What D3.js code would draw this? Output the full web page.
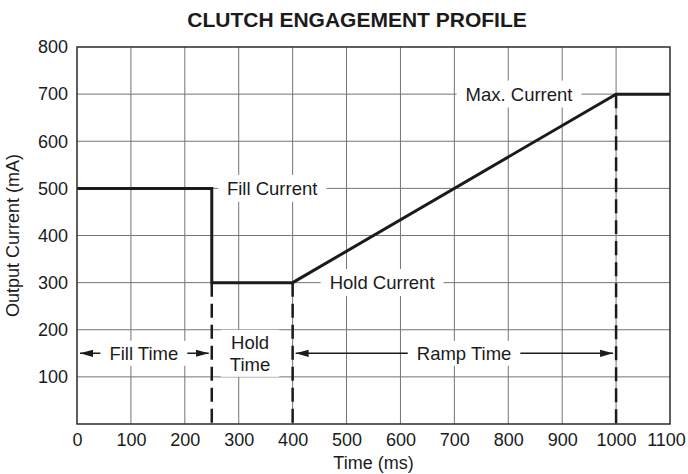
<!DOCTYPE html>
<html>
<head>
<meta charset="utf-8">
<script src="https://cdn.jsdelivr.net/npm/d3@7"></script>
<style>
  body { margin: 0; background: #fff; }
  svg { display: block; font-family: "Liberation Sans", Arial, sans-serif; }
</style>
</head>
<body>
<svg id="chart" width="688" height="474"></svg>
<script>
// profile of the output current (ms, mA)
let profileTime = [0, 250, 250, 400, 1000, 1100];
let profileCurrent = [500, 500, 300, 300, 700, 700];

// dashed markers dropping to the time axis
let markerTime = [250, 400, 1000];
let markerCurrent = [300, 300, 700];

// labels sitting on the current levels
let levelLabels = ["Fill Current", "Hold Current", "Max. Current"];
let levelTime = [362, 566, 820];
let levelCurrent = [500, 300, 700];

// time spans with arrows
let spanLabels = ["Fill Time", "Hold Time", "Ramp Time"];
let spanStart = [0, 250, 400];
let spanEnd = [250, 400, 1000];
let spanArrows = [true, false, true];
let spanLabelTime = [124, 321, 718];
let spanCurrent = 150;

let xTicks = [0, 100, 200, 300, 400, 500, 600, 700, 800, 900, 1000, 1100];
let yTicks = [100, 200, 300, 400, 500, 600, 700, 800];

let svg = d3.select("#chart");
let margin = {top: 47, right: 18, bottom: 50, left: 77};
let width = 688 - margin.left - margin.right;
let height = 474 - margin.top - margin.bottom;
let g = svg.append("g").attr("transform", "translate(" + margin.left + "," + margin.top + ")");

let x = d3.scaleLinear().domain([0, 1100]).range([0, width]);
let y = d3.scaleLinear().domain([0, 800]).range([height, 0]);

let ink = "#1b1b1b";
let gridColor = "#747474";
let labelSize = 18.5;

// grid
g.append("g")
    .selectAll("line")
    .data(xTicks.slice(1, -1))
    .enter().append("line")
    .attr("x1", d => x(d)).attr("x2", d => x(d))
    .attr("y1", 0).attr("y2", height)
    .attr("stroke", gridColor).attr("stroke-width", 1);

g.append("g")
    .selectAll("line")
    .data(yTicks.slice(0, -1))
    .enter().append("line")
    .attr("x1", 0).attr("x2", width)
    .attr("y1", d => y(d)).attr("y2", d => y(d))
    .attr("stroke", gridColor).attr("stroke-width", 1);

// axes (labels only)
let xAxis = g.append("g")
    .attr("transform", "translate(0," + height + ")")
    .call(d3.axisBottom(x).tickValues(xTicks).tickSize(0).tickPadding(9).tickFormat(d3.format("d")));
let yAxis = g.append("g")
    .call(d3.axisLeft(y).tickValues(yTicks).tickSize(0).tickPadding(9).tickFormat(d3.format("d")));
[xAxis, yAxis].forEach(a => {
    a.select(".domain").remove();
    a.attr("font-family", null).attr("font-size", null);
    a.selectAll("text").attr("font-size", 18).attr("fill", ink);
});
// keep the last time label inside the page
xAxis.selectAll(".tick text").filter(d => d === 1100).attr("dx", -4);

// arrow marker
let defs = svg.append("defs");
defs.append("marker")
    .attr("id", "arrow")
    .attr("markerUnits", "userSpaceOnUse")
    .attr("markerWidth", 14).attr("markerHeight", 8)
    .attr("viewBox", "0 -4 14 8")
    .attr("refX", 13).attr("refY", 0)
    .attr("orient", "auto-start-reverse")
    .append("path")
    .attr("d", "M0,-3.6L13,0L0,3.6Z")
    .attr("fill", ink);

// span arrows
spanLabels.forEach((label, i) => {
    if (!spanArrows[i]) return;
    g.append("line")
        .attr("x1", x(spanStart[i]) + 3).attr("x2", x(spanEnd[i]) - 3)
        .attr("y1", y(spanCurrent)).attr("y2", y(spanCurrent))
        .attr("stroke", ink).attr("stroke-width", 1.5)
        .attr("marker-start", "url(#arrow)")
        .attr("marker-end", "url(#arrow)");
});

// text with white box knocking out the grid
function boxedText(lines, cx, cy, padX, padY) {
    let grp = g.append("g");
    let rect = grp.append("rect").attr("fill", "#fff");
    let lh = 22;
    let t = grp.append("text")
        .attr("text-anchor", "middle")
        .attr("font-size", labelSize)
        .attr("fill", ink);
    lines.forEach((s, k) => {
        t.append("tspan")
            .attr("x", cx)
            .attr("y", cy + (k - (lines.length - 1) / 2) * lh)
            .attr("dy", "0.35em")
            .text(s);
    });
    let bb = t.node().getBBox();
    rect.attr("x", bb.x - padX).attr("y", bb.y - padY)
        .attr("width", bb.width + 2 * padX).attr("height", bb.height + 2 * padY);
}

levelLabels.forEach((label, i) => {
    boxedText([label], x(levelTime[i]), y(levelCurrent[i]), 9, 3);
});
spanLabels.forEach((label, i) => {
    let lines = label === "Hold Time" ? ["Hold", "Time"] : [label];
    boxedText(lines, x(spanLabelTime[i]), y(spanCurrent), 9, 2);
});

// dashed markers
g.append("g")
    .selectAll("line")
    .data(markerTime)
    .enter().append("line")
    .attr("x1", d => x(d)).attr("x2", d => x(d))
    .attr("y1", (d, i) => y(markerCurrent[i])).attr("y2", height)
    .attr("stroke", ink).attr("stroke-width", 2.5)
    .attr("stroke-dasharray", "14,7");

// profile line
let line = d3.line().x(d => x(d[0])).y(d => y(d[1]));
g.append("path")
    .datum(profileTime.map((t, i) => [t, profileCurrent[i]]))
    .attr("d", line)
    .attr("fill", "none")
    .attr("stroke", ink)
    .attr("stroke-width", 3)
    .attr("stroke-linejoin", "miter");

// frame
g.append("rect")
    .attr("width", width).attr("height", height)
    .attr("fill", "none").attr("stroke", "#2a2a2a").attr("stroke-width", 1.5);

// titles
svg.append("text")
    .attr("x", 357).attr("y", 27)
    .attr("text-anchor", "middle")
    .attr("font-size", 21).attr("font-weight", "bold")
    .attr("fill", ink)
    .text("CLUTCH ENGAGEMENT PROFILE");

svg.append("text")
    .attr("x", margin.left + width / 2).attr("y", 469)
    .attr("text-anchor", "middle")
    .attr("font-size", 18).attr("fill", ink)
    .text("Time (ms)");

svg.append("text")
    .attr("transform", "translate(19," + (margin.top + height / 2) + ") rotate(-90)")
    .attr("text-anchor", "middle")
    .attr("font-size", 18).attr("fill", ink)
    .text("Output Current (mA)");
</script>
</body>
</html>
